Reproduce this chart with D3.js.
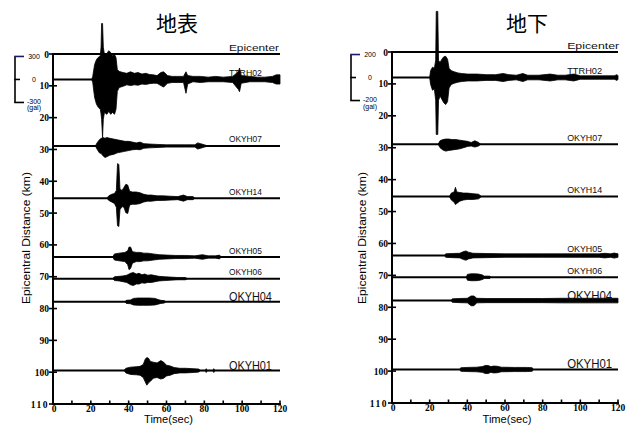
<!DOCTYPE html>
<html><head><meta charset="utf-8">
<script src="https://cdn.jsdelivr.net/npm/d3@7"></script>
<style>body{margin:0;background:#fff}svg{display:block}</style>
</head><body><svg id="c" width="630" height="425"></svg>
<script>
// ---------------- DATA ----------------
const stations   = ["Epicenter","TTRH02","OKYH07","OKYH14","OKYH05","OKYH06","OKYH04","OKYH01"];
const distances  = [0, 8.0, 28.9, 45.3, 63.8, 70.6, 77.9, 99.5];   // km
const panelTitles = ["地表", "地下"];
const scaleGal   = [300, 200];                 // amplitude scale bar (gal)
const xTicks     = [0, 20, 40, 60, 80, 100, 120];
const xMinor     = [10, 30, 50, 70, 90, 110];
const yTicks     = [0, 10, 20, 30, 40, 50, 60, 70, 80, 90, 100, 110];

// envelopes: [time s, upper gal, lower gal]
// --- surface (地表) ---
const surfTTRH02 = [[20.5,0,0],[21,40,40],[22,195,235],[23,260,325],[24,290,365],[25,310,390],[25.4,420,450],[25.7,730,520],[26.2,730,755],[26.6,420,520],[27.2,325,430],[28.5,340,455],[29.5,375,415],[30.5,350,455],[31.5,310,430],[32.5,325,455],[33.3,285,390],[34,130,155],[35,105,105],[37,90,90],[39,80,70],[41,100,80],[43,80,70],[45,90,75],[47,70,60],[49,80,65],[51,65,55],[53,60,50],[55,50,50],[57,90,80],[58.5,100,100],[60.5,50,50],[63,40,40],[66,40,40],[69,40,40],[70.3,100,180],[71.2,50,60],[74,40,30],[78,40,40],[82,30,30],[86,40,30],[90,30,30],[95,40,40],[98,100,130],[98.6,150,160],[99.5,50,50],[104,40,30],[108,30,30],[112,30,30],[116,40,40],[118,60,60],[120,60,60]];
const surfOKYH07 = [[22.5,0,0],[23,30,30],[24.5,80,90],[25.5,100,100],[26.5,110,130],[27.5,100,150],[28.5,110,140],[30,100,120],[32,90,110],[34,80,90],[36,70,80],[38,60,70],[40,60,60],[42,50,50],[44,40,45],[46,50,50],[48,30,30],[51,25,25],[55,20,20],[60,15,15],[70,15,15],[75,15,15],[76.5,40,40],[78,30,30],[80,15,15],[82,0,0]];
const surfOKYH14 = [[28.5,0,0],[29.5,30,30],[31,50,50],[32.5,60,70],[33.5,100,120],[34.1,450,360],[34.8,440,370],[35.4,120,150],[36.5,100,110],[37.5,140,120],[38.5,180,190],[39.5,170,200],[40.5,90,90],[42,80,80],[44,80,80],[46,70,70],[48,50,50],[50,40,40],[52,40,40],[55,30,30],[58,30,30],[62,25,25],[66,20,20],[69,40,40],[71,20,20],[74,20,20],[75,0,0]];
const surfOKYH05 = [[31.5,0,0],[32.5,40,40],[35,50,50],[38,60,60],[39.5,80,100],[40.2,130,165],[41,130,150],[42,70,80],[44,60,60],[46,60,60],[48,50,50],[50,50,50],[53,40,40],[56,30,30],[60,25,25],[65,20,20],[70,20,20],[75,15,15],[79,30,30],[82,15,15],[86,15,15],[88,25,25],[89,0,0]];
const surfOKYH06 = [[31.5,0,0],[32.5,25,25],[35,30,30],[37,35,40],[39,45,50],[41,70,80],[42.5,80,90],[44,60,70],[45.5,70,70],[47,50,55],[48.5,60,60],[50,45,50],[52,50,50],[54,40,40],[56,30,30],[59,25,25],[62,20,20],[66,15,15],[70,15,15],[71,0,0]];
const surfOKYH04 = [[38,0,0],[38.7,20,20],[41,25,25],[42.5,45,40],[45,50,45],[48,50,45],[51,50,45],[54,45,40],[55.5,30,30],[57,20,20],[59,15,15],[59.5,0,0]];
const surfOKYH01 = [[37.5,0,0],[38.5,30,30],[41,45,50],[44,50,55],[46,55,60],[47.7,80,90],[48.8,150,150],[49.6,170,190],[50.5,160,160],[51.5,120,140],[53,110,100],[55,100,90],[57,130,110],[58.5,110,100],[60,70,70],[62,60,60],[64,40,40],[67,30,30],[70,30,30],[74,25,25],[77,20,20],[78,0,0],[80.5,0,0],[81,25,25],[81.5,0,0],[84.5,0,0],[85,25,25],[85.5,0,0]];
// --- borehole (地下) ---
const subTTRH02 = [[20,0,0],[20.5,60,60],[21.5,90,110],[22.5,80,100],[23.2,150,200],[23.5,575,495],[24.3,575,495],[24.7,150,200],[25.5,130,160],[26.5,160,190],[27.5,180,220],[28.5,185,235],[29.5,160,210],[30.3,80,90],[31.5,60,60],[33,50,50],[35,40,40],[37,35,35],[40,30,30],[45,30,30],[50,25,25],[55,25,25],[59,35,35],[62,25,25],[66,20,20],[69.5,35,35],[72,20,20],[78,20,20],[84,30,30],[88,20,20],[92,20,20],[96.5,30,30],[100,15,15],[110,15,15],[118,15,15],[119.5,25,25],[120,15,15]];
const subOKYH07 = [[24.5,0,0],[25.5,30,30],[27,40,50],[28.5,45,60],[30,45,55],[32,40,50],[34,40,45],[36,35,40],[38,30,30],[40,25,20],[42,15,15],[44,30,25],[46,15,15],[47,0,0]];
const subOKYH14 = [[30.5,0,0],[31.5,30,30],[33,40,50],[33.7,80,70],[34.4,40,60],[36,35,40],[38,30,30],[40,30,25],[43,25,25],[46,20,20],[47.5,0,0]];
const subOKYH05 = [[28,0,0],[28.5,15,15],[32,18,18],[36,20,20],[38,35,35],[39.3,40,40],[40.5,30,30],[43,20,20],[50,18,18],[60,15,15],[70,15,15],[80,15,15],[90,15,15],[100,15,15],[110,15,15],[113,20,20],[116,15,15],[118,22,22],[120,15,15]];
const subOKYH06 = [[39.5,0,0],[40,25,25],[42,30,30],[44,30,30],[46,28,28],[48,20,20],[49,10,10],[52,10,10],[52.5,0,0]];
const subOKYH04 = [[31.5,0,0],[32,15,15],[36,18,18],[40,20,20],[42,40,45],[43.5,40,45],[45,20,20],[50,18,18],[60,18,18],[70,18,18],[80,18,18],[90,20,20],[100,20,20],[110,20,20],[120,20,20]];
const subOKYH01 = [[36,0,0],[36.5,15,15],[40,18,18],[45,20,20],[48,25,25],[49.5,35,35],[51,35,35],[52.5,25,25],[54,30,30],[56,28,28],[58,20,20],[65,18,18],[72,18,18],[74.5,15,15],[75,0,0]];

const surfTraces = [null, surfTTRH02, surfOKYH07, surfOKYH14, surfOKYH05, surfOKYH06, surfOKYH04, surfOKYH01];
const subTraces  = [null, subTTRH02, subOKYH07, subOKYH14, subOKYH05, subOKYH06, subOKYH04, subOKYH01];

// ---------------- LAYOUT ----------------
const panels = [
  {x0:53,  x1:280, y0:54, y1:404, barX:15,  titleX:177, traces:surfTraces},
  {x0:392, x1:618, y0:52, y1:403, barX:351, titleX:527, traces:subTraces}
];
const svg = d3.select("#c");
const tickFont = "'Liberation Serif','Times New Roman',serif";
const sans = "'Liberation Sans',Arial,sans-serif";
const bigLabels = new Set(["OKYH04","OKYH01"]);

panels.forEach((p, pi) => {
  const g = svg.append("g");
  const x = d3.scaleLinear().domain([0,120]).range([p.x0, p.x1]);
  const y = d3.scaleLinear().domain([0,110]).range([p.y0, p.y1]);
  const gal = scaleGal[pi];
  const amp = d3.scaleLinear().domain([-gal, gal]).range([23, -23]);

  // title
  g.append("text").attr("x", p.titleX).attr("y", 31).attr("text-anchor","middle")
    .attr("font-family","'Noto Sans CJK JP','Noto Sans CJK SC',sans-serif")
    .attr("font-size", 21).text(panelTitles[pi]);

  // baselines
  stations.forEach((s, i) => {
    g.append("line").attr("x1", x(0)).attr("x2", x(120))
      .attr("y1", y(distances[i])).attr("y2", y(distances[i]))
      .attr("stroke","#000").attr("stroke-width",2);
  });

  // waveforms (envelopes)
  stations.forEach((s, i) => {
    const tr = p.traces[i];
    if (!tr) return;
    const base = y(distances[i]);
    const area = d3.area()
      .x(d => x(d[0]))
      .y0(d => base + (amp(-d[2]) ))
      .y1(d => base + amp(d[1]));
    g.append("path").attr("d", area(tr)).attr("fill","#000")
      .attr("stroke","#000").attr("stroke-width",0.8).attr("stroke-linejoin","round");
  });

  // station labels
  stations.forEach((s, i) => {
    const big = bigLabels.has(s);
    const base = y(distances[i]);
    const w = s === "Epicenter" ? 50 : (big ? 43 : 33);
    g.append("text").attr("x", x(93)).attr("y", base - (big ? 1 : 3.5))
      .attr("font-family", sans).attr("font-size", big ? 12.5 : 9.5)
      .attr("textLength", w + (pi ? 2 : 0)).attr("lengthAdjust","spacingAndGlyphs")
      .attr("fill","#111").text(s);
  });

  // y axis
  g.append("line").attr("x1",p.x0).attr("x2",p.x0).attr("y1",p.y0-1).attr("y2",p.y1+1)
    .attr("stroke","#000").attr("stroke-width",2);
  yTicks.forEach(v => {
    g.append("line").attr("x1",p.x0-4).attr("x2",p.x0+4).attr("y1",y(v)).attr("y2",y(v))
      .attr("stroke","#000").attr("stroke-width",1.6);
    g.append("text").attr("x",p.x0-4).attr("y",y(v)+3.5).attr("text-anchor","end")
      .attr("font-family",tickFont).attr("font-weight","bold").attr("font-size",9.5)
      .attr("letter-spacing", v===110 ? 1.5 : 0).text(v);
  });
  // x axis
  g.append("line").attr("x1",p.x0-1).attr("x2",p.x1+1).attr("y1",p.y1).attr("y2",p.y1)
    .attr("stroke","#000").attr("stroke-width",2);
  xTicks.concat(xMinor).forEach(v => {
    g.append("line").attr("x1",x(v)).attr("x2",x(v)).attr("y1",p.y1).attr("y2",p.y1-3.5)
      .attr("stroke","#000").attr("stroke-width",1.6);
  });
  xTicks.forEach(v => {
    g.append("text").attr("x",x(v)+(v===0?1:0)).attr("y",p.y1+8).attr("text-anchor","middle")
      .attr("font-family",tickFont).attr("font-weight","bold").attr("font-size",9.5).text(v);
  });
  // axis titles
  g.append("text").attr("x",(p.x0+p.x1)/2+2).attr("y",423).attr("text-anchor","middle")
    .attr("font-family",sans).attr("font-size",10).attr("textLength",49)
    .attr("lengthAdjust","spacingAndGlyphs").text("Time(sec)");
  const ly = 238, lx = p.x0 - (pi ? 30 : 27);
  g.append("text").attr("transform",`translate(${lx+3.5},${ly}) rotate(-90)`)
    .attr("text-anchor","middle").attr("font-family",sans).attr("font-size",10)
    .attr("textLength",132).attr("lengthAdjust","spacingAndGlyphs")
    .text("Epicentral Distance (km)");

  // amplitude scale bar centred on TTRH02 baseline
  const b = y(distances[1]);
  const bx = p.barX;
  g.append("line").attr("x1",bx).attr("x2",bx).attr("y1",b+amp(gal)).attr("y2",b+amp(-gal))
    .attr("stroke","#000").attr("stroke-width",1.6);
  [[gal,9,"#1c1c66"],[0,5,"#000"],[-gal,9,"#000"]].forEach(([v,len,c]) => {
    g.append("line").attr("x1",bx-0.8).attr("x2",bx+len).attr("y1",b+amp(v)).attr("y2",b+amp(v))
      .attr("stroke",c).attr("stroke-width",1.6);
  });
  const lab = (txt, yy) => g.append("text").attr("x",bx+19).attr("y",yy)
    .attr("text-anchor","middle").attr("font-family",sans).attr("font-size",7).text(txt);
  lab(gal, b+amp(gal)+2.5);
  lab(0, b+amp(0)+2.5);
  lab(-gal, b+amp(-gal)+1.5);
  lab("(gal)", b+amp(-gal)+8);
});
</script></body></html>
